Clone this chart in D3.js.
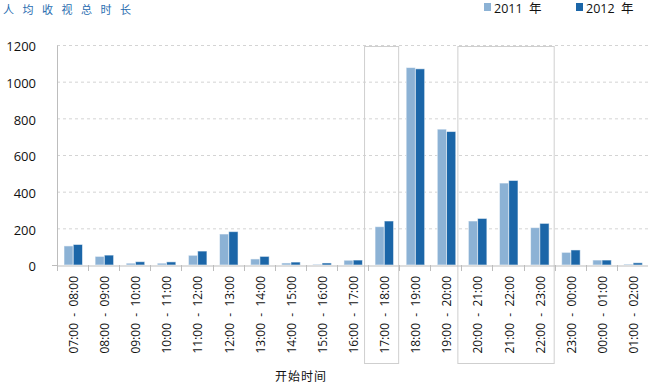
<!DOCTYPE html>
<html lang="zh">
<head>
<meta charset="UTF-8">
<title>人均收视总时长</title>
<script src="https://cdnjs.cloudflare.com/ajax/libs/d3/7.8.5/d3.min.js"></script>
<style>
  body { margin: 0; background: #fff; }
  svg { display: block; font-family: "Open Sans", "Noto Sans CJK SC", sans-serif; }
  .pre { white-space: pre; }
</style>
</head>
<body>
<script>
// data
var categories = ["07:00 - 08:00", "08:00 - 09:00", "09:00 - 10:00", "10:00 - 11:00", "11:00 - 12:00",
  "12:00 - 13:00", "13:00 - 14:00", "14:00 - 15:00", "15:00 - 16:00", "16:00 - 17:00",
  "17:00 - 18:00", "18:00 - 19:00", "19:00 - 20:00", "20:00 - 21:00", "21:00 - 22:00",
  "22:00 - 23:00", "23:00 - 00:00", "00:00 - 01:00", "01:00 - 02:00"];
var series = ["2011 年", "2012 年"];
var values2011 = [104, 47, 10, 10, 53, 169, 33, 11, 4, 26, 209, 1077, 741, 240, 447, 204, 69, 27, 5];
var values2012 = [112, 54, 18, 17, 76, 182, 47, 16, 11, 27, 240, 1070, 728, 254, 461, 227, 82, 27, 12];
var yTicks = [0, 200, 400, 600, 800, 1000, 1200];
var highlights = [["17:00 - 18:00", "17:00 - 18:00"], ["20:00 - 21:00", "22:00 - 23:00"]];

var width = 648, height = 385;
var colors = ["#8cb2d5", "#1b66a8"];

var svg = d3.select("body").append("svg")
  .attr("width", width)
  .attr("height", height);

var x = d3.scaleBand().domain(categories).range([57, 648]).padding(0);
var x1 = d3.scaleBand().domain(series).range([7, 25.5]).padding(0);
var y = d3.scaleLinear().domain([0, 1200]).range([265, 45]);

// title
svg.append("text")
  .attr("x", 3).attr("y", 14)
  .attr("fill", "#2a6db0")
  .attr("font-size", 11)
  .attr("letter-spacing", 8.5)
  .text("人均收视总时长");

// legend
var legend = svg.selectAll("g.legend")
  .data(series)
  .enter().append("g")
  .attr("class", "legend")
  .attr("transform", function(d, i) { return "translate(" + (484 + i * 92) + ",0)"; });
legend.append("rect")
  .attr("x", 0).attr("y", 3).attr("width", 7).attr("height", 8)
  .attr("fill", function(d, i) { return colors[i]; });
legend.append("text")
  .attr("class", "pre")
  .attr("x", 10).attr("y", 13)
  .attr("font-size", 12.5)
  .attr("fill", "#111")
  .text(function(d) { return d.replace(" ", "  "); });

// gridlines
svg.append("g").selectAll("line")
  .data(yTicks.filter(function(d) { return d > 0; }))
  .enter().append("line")
  .attr("x1", 57).attr("x2", 648)
  .attr("y1", function(d) { return y(d) + 0.5; })
  .attr("y2", function(d) { return y(d) + 0.5; })
  .attr("stroke", "#d4d4d4")
  .attr("stroke-dasharray", "3,3");

// highlight boxes
svg.append("g").selectAll("rect")
  .data(highlights)
  .enter().append("rect")
  .attr("x", function(d) { return x(d[0]) - 3.5; })
  .attr("y", 46.5)
  .attr("width", function(d) { return x(d[1]) + x.bandwidth() - x(d[0]) + 3; })
  .attr("height", 317)
  .attr("fill", "none")
  .attr("stroke", "#cfcfcf");

// bars
var groups = svg.append("g").selectAll("g")
  .data(categories)
  .enter().append("g")
  .attr("transform", function(d) { return "translate(" + x(d) + ",0)"; });

groups.selectAll("rect")
  .data(function(d, i) { return [values2011[i], values2012[i]]; })
  .enter().append("rect")
  .attr("x", function(d, j) { return x1(series[j]); })
  .attr("y", function(d) { return y(d); })
  .attr("width", x1.bandwidth())
  .attr("height", function(d) { return y(0) - y(d); })
  .attr("fill", function(d, j) { return colors[j]; })
  .attr("stroke", "rgba(255,255,255,0.55)")
  .attr("stroke-width", 1);

// y axis
var yAxis = svg.append("g")
  .attr("transform", "translate(57,0)")
  .call(d3.axisLeft(y).tickValues(yTicks).tickSize(0).tickPadding(21).tickFormat(d3.format("d")));
yAxis.select(".domain").attr("stroke", "#bdbdbd");
yAxis.selectAll("text").attr("font-size", 13).attr("fill", "#111").attr("dy", "0.45em")
  .attr("font-family", "Open Sans, sans-serif");
svg.append("line")
  .attr("x1", 52).attr("x2", 57).attr("y1", y(0) + 0.5).attr("y2", y(0) + 0.5)
  .attr("stroke", "#bdbdbd");

// x axis
var xAxis = svg.append("g")
  .attr("transform", "translate(0," + (y(0) + 0.5) + ")")
  .call(d3.axisBottom(x).tickSize(0).tickFormat(""));
xAxis.select(".domain").attr("stroke", "#bdbdbd");
svg.append("g").selectAll("line")
  .data(categories)
  .enter().append("line")
  .attr("x1", function(d) { return Math.round(x(d)) + 0.5; })
  .attr("x2", function(d) { return Math.round(x(d)) + 0.5; })
  .attr("y1", 265).attr("y2", 271)
  .attr("stroke", "#bdbdbd");

svg.append("g").selectAll("text")
  .data(categories)
  .enter().append("text")
  .attr("class", "pre")
  .attr("transform", function(d) {
    return "translate(" + (x(d) + x.bandwidth() / 2 + 5.5) + ",276) rotate(-90)";
  })
  .attr("text-anchor", "end")
  .attr("font-size", 12)
  .attr("fill", "#111")
  .text(function(d) { return d.replace(" - ", "  -  "); });

// x axis title
svg.append("text")
  .attr("x", 301).attr("y", 381)
  .attr("text-anchor", "middle")
  .attr("font-size", 12)
  .attr("fill", "#111")
  .attr("letter-spacing", 1)
  .text("开始时间");
</script>
</body>
</html>
